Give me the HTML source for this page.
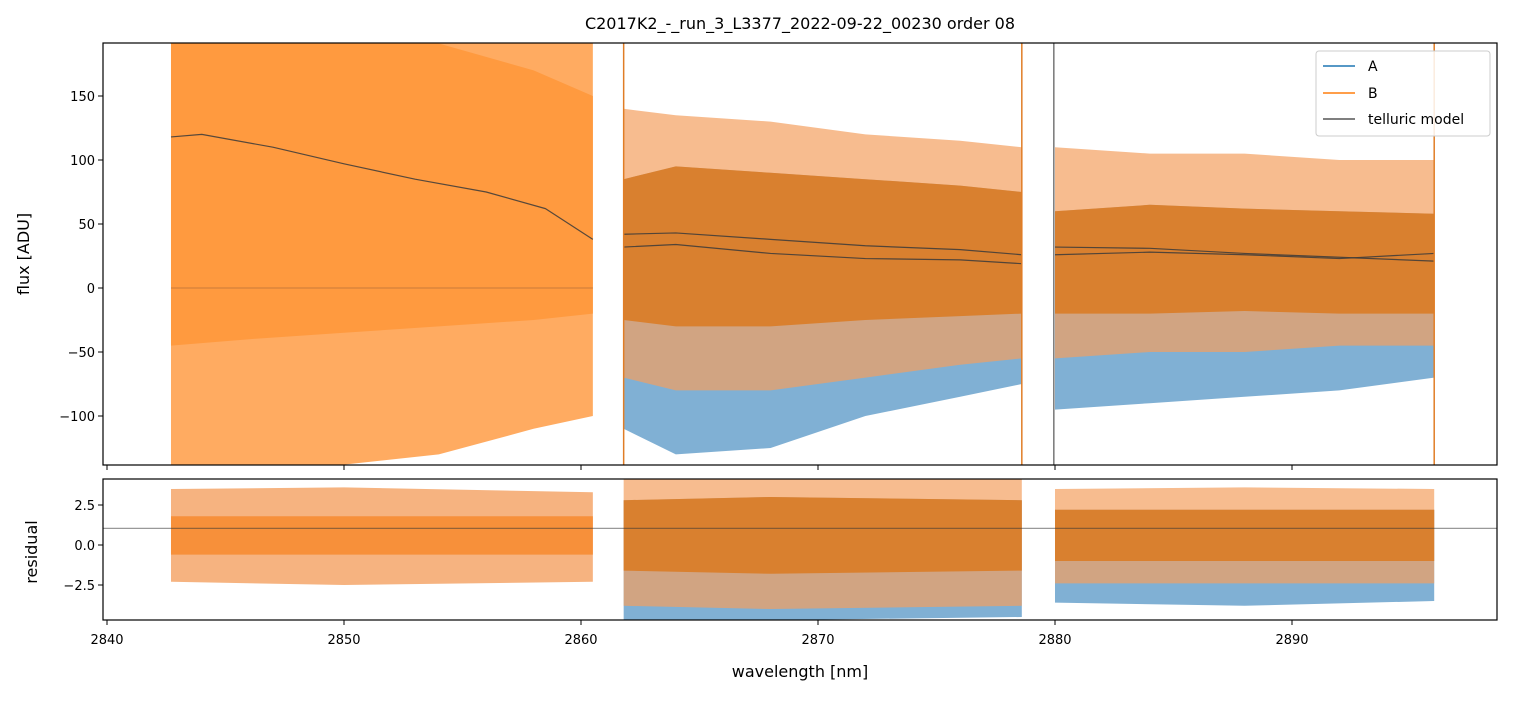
<!DOCTYPE html>
<html><head><meta charset="utf-8"><style>
body{margin:0;background:#fff;font-family:"Liberation Sans","DejaVu Sans",sans-serif}
svg text{font-family:"DejaVu Sans","Liberation Sans",sans-serif;fill:#000}
</style></head><body>
<svg id="c" width="1513" height="696" xmlns="http://www.w3.org/2000/svg"></svg>
<script>
// ---- data ----
const segments = [[2842.7,2860.5],[2861.8,2878.6],[2880.0,2896.0]];
const fluxWl = [[2842.7,2846,2850,2854,2858,2860.5],[2861.8,2864,2868,2872,2876,2878.6],[2880,2884,2888,2892,2896]];
const orangeCoreHi = [[191,191,191,191,170,150],[85,95,90,85,80,75],[60,65,62,60,58]];
const orangeCoreLo = [[-45,-40,-35,-30,-25,-20],[-25,-30,-30,-25,-22,-20],[-20,-20,-18,-20,-20]];
const orangeOutHi = [[191,191,191,191,191,191],[140,135,130,120,115,110],[110,105,105,100,100]];
const orangeOutLo = [[-138,-138,-138,-130,-110,-100],[-70,-80,-80,-70,-60,-55],[-55,-50,-50,-45,-45]];
const blueOutLo = [[0,0,0,0,0,0],[-110,-130,-125,-100,-85,-75],[-95,-90,-85,-80,-70]];
const modelWl = [[2842.7,2844,2847,2850,2853,2856,2858.5,2860.5],[2861.8,2864,2868,2872,2876,2878.6],[2880,2884,2888,2892,2896]];
const model1 = [[118,120,110,97,85,75,62,38],[42,43,38,33,30,26],[32,31,27,24,21]];
const model2 = [null,[32,34,27,23,22,19],[26,28,26,23,27]];
const resWl = [[2842.7,2850,2860.5],[2861.8,2868,2878.6],[2880,2888,2896]];
const resOCoreHi=[[1.8,1.8,1.8],[2.8,3.0,2.8],[2.2,2.2,2.2]];
const resOCoreLo=[[-0.6,-0.6,-0.6],[-1.6,-1.8,-1.6],[-1.0,-1.0,-1.0]];
const resOOutHi=[[3.5,3.6,3.3],[4.2,4.2,4.2],[3.5,3.6,3.5]];
const resOOutLo=[[-2.3,-2.5,-2.3],[-3.8,-4.0,-3.8],[-2.4,-2.4,-2.4]];
const resBLo=[[0,0,0],[-4.7,-4.7,-4.5],[-3.6,-3.8,-3.5]];
const residualRef = 1.05;
const xTicks=[2840,2850,2860,2870,2880,2890];
const yTicks=[150,100,50,0,-50,-100];
const rTicks=[2.5,0.0,-2.5];
// ---- axes ----
const L=103,R=1497,T1=43,B1=465,T2=479,B2=620;
const X=v=>107+(v-2840)*23.7;
const Y=v=>288-v*1.28;
const YR=v=>545-v*16;
const svg=document.getElementById('c');const NS='http://www.w3.org/2000/svg';
function mk(t,a,p,name,txt){const e=document.createElementNS(NS,t);for(const k in a)e.setAttribute(k,a[k]);


if(txt!==undefined)e.textContent=txt;(p||svg).appendChild(e);return e;}
const clip1=mk('clipPath',{id:'k1'},null,'clip-top');mk('rect',{x:L,y:T1,width:R-L,height:B1-T1},clip1,'clip-rect');
const clip2=mk('clipPath',{id:'k2'},null,'clip-bottom');mk('rect',{x:L,y:T2,width:R-L,height:B2-T2},clip2,'clip-rect');
const g1=mk('g',{'clip-path':'url(#k1)'},null,'flux-plot');
const g2=mk('g',{'clip-path':'url(#k2)'},null,'residual-plot');
function band(g,xs,hi,lo,yf,fill,op,name){
 let pts=xs.map((x,i)=>X(x)+','+yf(hi[i]));
 for(let i=xs.length-1;i>=0;i--)pts.push(X(xs[i])+','+yf(lo[i]));
 mk('polygon',{points:pts.join(' '),fill:fill,opacity:op},g,name);}
function line(g,xs,ys,yf,st,w,op,name){
 mk('polyline',{points:xs.map((x,i)=>X(x)+','+yf(ys[i])).join(' '),fill:'none',stroke:st,'stroke-width':w,opacity:op,'stroke-linejoin':'round'},g,name);}
for(let s=0;s<3;s++){
 const w=fluxWl[s];
 if(s>0) band(g1,w,orangeCoreHi[s],blueOutLo[s],Y,'#4a8fc2',0.7,'series-a-band');
 band(g1,w,orangeOutHi[s],orangeOutLo[s],Y,s?'#f4a060':'#ff9c45',s?0.7:0.85,'series-b-outer');
 band(g1,w,orangeCoreHi[s],orangeCoreLo[s],Y,s?'#d9802f':'#ff9a3f',1,'series-b-core');
 if(s==0) line(g1,[segments[0][0],segments[0][1]],[0,0],Y,'#c97a3a',1.2,0.8,'series-a-flat');
 line(g1,modelWl[s],model1[s],Y,'#3a3a3a',1.2,0.85,'telluric-model');
 if(model2[s]) line(g1,modelWl[s],model2[s],Y,'#3a3a3a',1.2,0.85,'telluric-model-2');
 const rw=resWl[s];
 if(s>0) band(g2,rw,resOCoreHi[s],resBLo[s],YR,'#4a8fc2',0.7,'residual-a-band');
 band(g2,rw,resOOutHi[s],resOOutLo[s],YR,'#f4a060',s?0.7:0.8,'residual-b-outer');
 band(g2,rw,resOCoreHi[s],resOCoreLo[s],YR,s?'#d9802f':'#f7903a',1,'residual-b-core');
}
[[2861.8,'#e07d26'],[2878.6,'#e07d26'],[2879.95,'#777'],[2896,'#e07d26']].forEach(v=>mk('line',{x1:X(v[0]),x2:X(v[0]),y1:T1,y2:B1,stroke:v[1],'stroke-width':1.5},g1,'spike-line'));
mk('line',{x1:L,x2:R,y1:YR(residualRef),y2:YR(residualRef),stroke:'#333','stroke-width':0.7},g2,'residual-reference-line');
mk('rect',{x:L,y:T1,width:R-L,height:B1-T1,fill:'none',stroke:'#000','stroke-width':1.2},null,'top-frame');
mk('rect',{x:L,y:T2,width:R-L,height:B2-T2,fill:'none',stroke:'#000','stroke-width':1.2},null,'bottom-frame');
xTicks.forEach(t=>{const x=X(t);
 mk('line',{x1:x,x2:x,y1:B1,y2:B1+5,stroke:'#000'},null,'x-tick-top');
 mk('line',{x1:x,x2:x,y1:B2,y2:B2+5,stroke:'#000'},null,'x-tick');
 mk('text',{x:x,y:B2+24,'font-size':13,'text-anchor':'middle'},null,'x-tick-label',t);});
yTicks.forEach(t=>{const y=Y(t);
 mk('line',{x1:L-5,x2:L,y1:y,y2:y,stroke:'#000'},null,'y-tick');
 mk('text',{x:L-8,y:y+5,'font-size':13,'text-anchor':'end'},null,'y-tick-label',t==0?'0':(t<0?'\u2212'+(-t):t));});
rTicks.forEach(t=>{const y=YR(t);
 mk('line',{x1:L-5,x2:L,y1:y,y2:y,stroke:'#000'},null,'residual-tick');
 mk('text',{x:L-8,y:y+5,'font-size':13,'text-anchor':'end'},null,'residual-tick-label',t<0?'\u2212'+(-t).toFixed(1):t.toFixed(1));});
mk('text',{x:800,y:29,'font-size':16,'text-anchor':'middle'},null,'chart-title','C2017K2_-_run_3_L3377_2022-09-22_00230  order 08');
mk('text',{x:800,y:677,'font-size':16,'text-anchor':'middle'},null,'x-axis-title','wavelength [nm]');
mk('text',{x:29,y:254,'font-size':16,'text-anchor':'middle',transform:'rotate(-90 29 254)'},null,'y-axis-title','flux [ADU]');
mk('text',{x:37,y:552,'font-size':16,'text-anchor':'middle',transform:'rotate(-90 37 552)'},null,'residual-axis-title','residual');
const lg=mk('g',{},null,'legend');
mk('rect',{x:1316,y:51,width:174,height:85,rx:3,fill:'#fff',stroke:'#ccc','fill-opacity':0.85},lg,'legend-box');
[['A','#1f77b4',66],['B','#ff7f0e',93],['telluric model','#555',119]].forEach(e=>{
 const g=mk('g',{},lg,'legend-entry');
 mk('line',{x1:1323,x2:1355,y1:e[2],y2:e[2],stroke:e[1],'stroke-width':1.5},g,'legend-swatch');
 mk('text',{x:1368,y:e[2]+5,'font-size':14},g,'legend-label',e[0]);});
</script>
</body></html>
